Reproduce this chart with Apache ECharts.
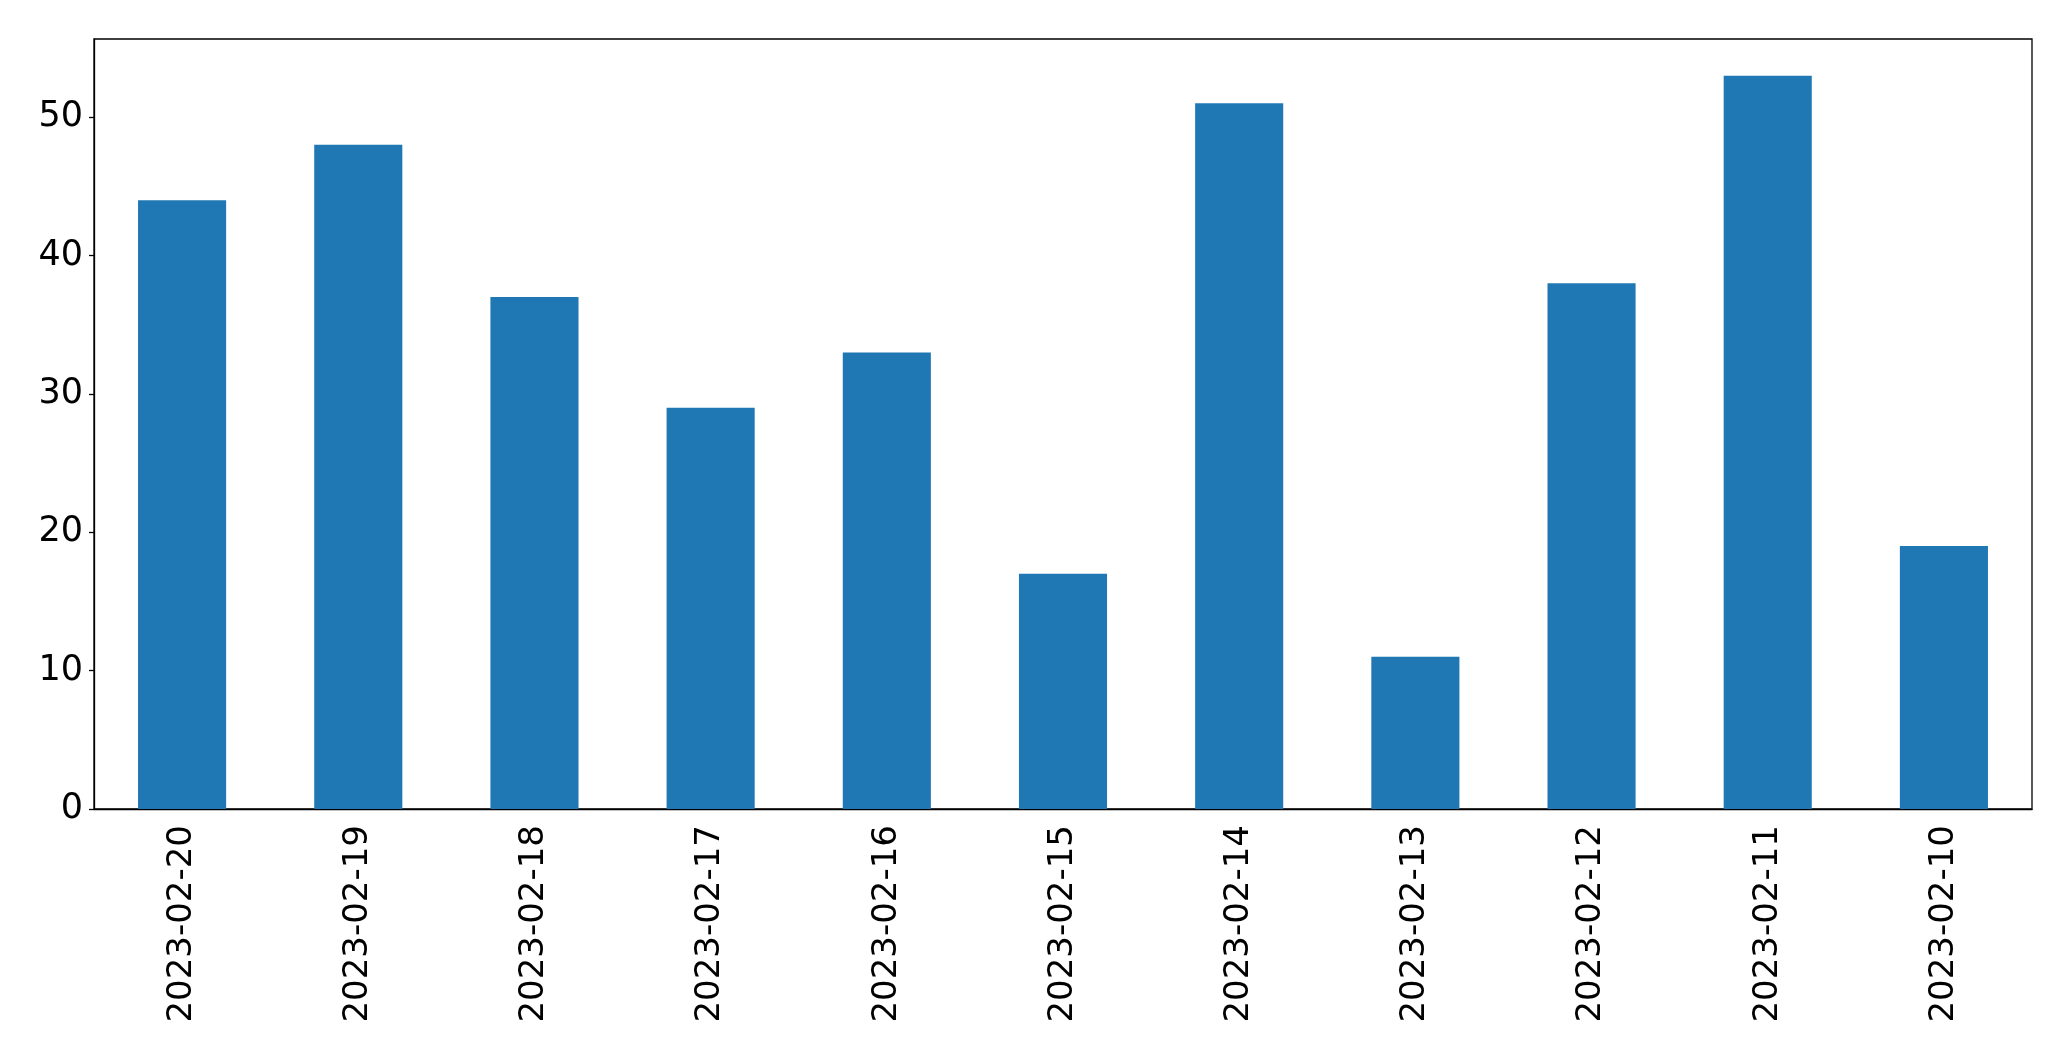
<!DOCTYPE html>
<html>
<head>
<meta charset="utf-8">
<script src="https://cdn.jsdelivr.net/npm/echarts@6/dist/echarts.min.js"></script>
<style>html,body{margin:0;padding:0;background:#fff;}#c{width:2071px;height:1061px;}</style>
</head>
<body>
<div id="c"></div>
<script>
const categories = ['2023-02-20','2023-02-19','2023-02-18','2023-02-17','2023-02-16','2023-02-15','2023-02-14','2023-02-13','2023-02-12','2023-02-11','2023-02-10'];
const values = [44, 48, 37, 29, 33, 17, 51, 11, 38, 53, 19];
const yTicks = [0, 10, 20, 30, 40, 50];

const chart = echarts.init(document.getElementById('c'), null, {renderer: 'canvas'});
const font = 'DejaVu Sans';
chart.setOption({
  animation: false,
  backgroundColor: '#fff',
  grid: {left: 94, top: 39, right: 39, bottom: 252, show: true, borderColor: '#000', borderWidth: 1.3, backgroundColor: 'transparent'},
  xAxis: {
    type: 'category',
    data: categories,
    boundaryGap: true,
    axisLine: {lineStyle: {color: '#000', width: 1.3}},
    axisTick: {alignWithLabel: true, length: 5, lineStyle: {color: '#000', width: 1.3}},
    axisLabel: {rotate: 90, color: '#000', fontFamily: font, fontSize: 34, margin: 16, interval: 0}
  },
  yAxis: {
    type: 'value',
    min: 0,
    max: Math.max(...values) * 1.05,
    interval: 10,
    splitLine: {show: false},
    axisLine: {show: true, lineStyle: {color: '#000', width: 1.3}},
    axisTick: {show: true, length: 5, lineStyle: {color: '#000', width: 1.3}, customValues: yTicks},
    axisLabel: {color: '#000', fontFamily: font, fontSize: 35, margin: 11, customValues: yTicks}
  },
  series: [{
    type: 'bar',
    data: values,
    barWidth: '50%',
    itemStyle: {color: '#1f77b4'}
  }]
});
</script>
</body>
</html>
